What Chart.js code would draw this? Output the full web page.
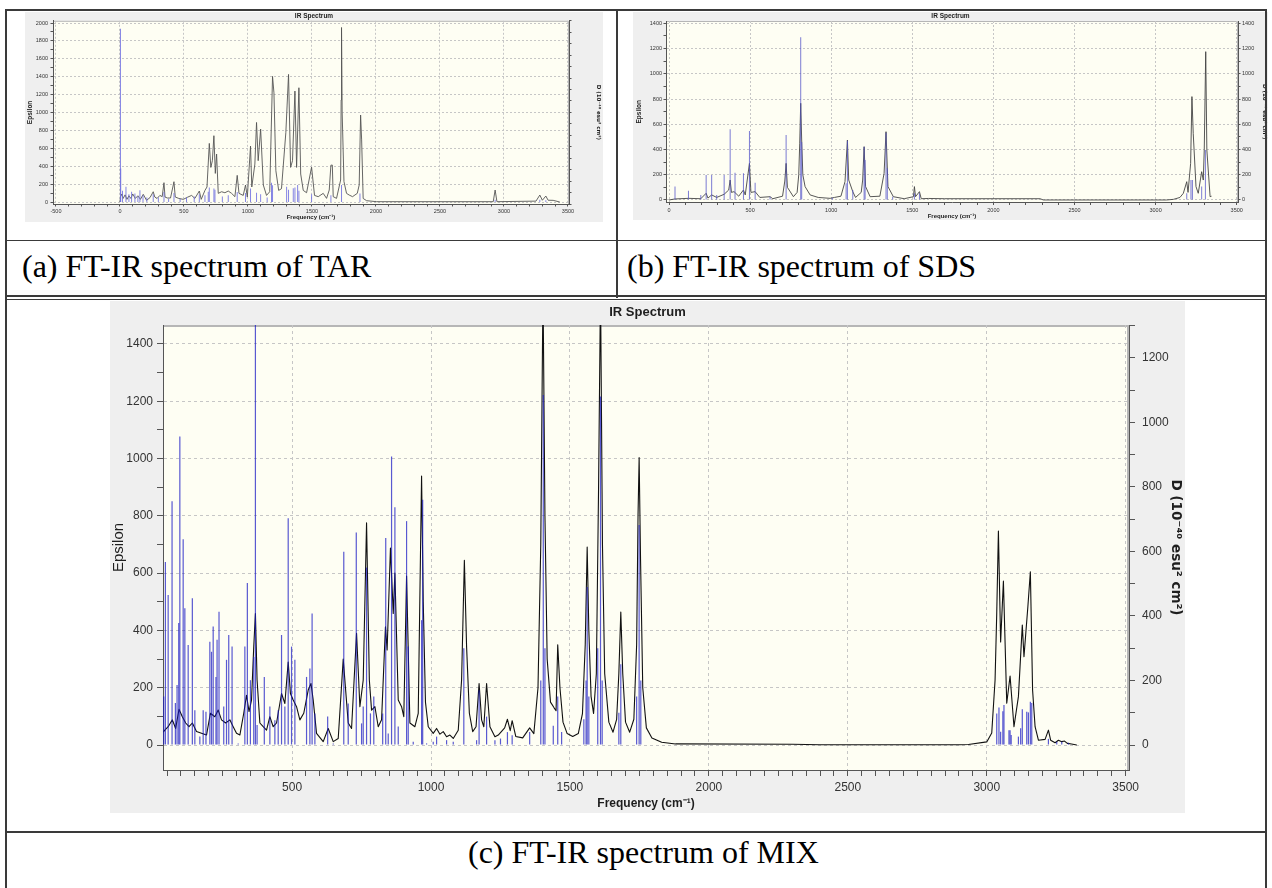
<!DOCTYPE html>
<html><head><meta charset="utf-8">
<script src="https://cdn.jsdelivr.net/npm/chart.js@4.4.0/dist/chart.umd.min.js"></script>
<style>
html,body{margin:0;padding:0;background:#fff;}
body{width:1272px;height:888px;position:relative;overflow:hidden;}
canvas{position:absolute;}
.ln{position:absolute;background:#3a3a3a;z-index:5;}
.cap{position:absolute;font-family:"Liberation Serif","Times New Roman",serif;font-size:32px;line-height:32px;color:#000;white-space:nowrap;}
</style></head><body>
<canvas id="tar" width="578" height="210" style="left:25px;top:12px;"></canvas>
<canvas id="sds" width="635" height="208" style="left:633px;top:12px;"></canvas>
<canvas id="mix" width="1075" height="512" style="left:110px;top:301px;"></canvas>

<div class="ln" style="left:6px;top:9px;width:1260px;height:2px;"></div>
<div class="ln" style="left:5px;top:9px;width:2px;height:879px;"></div>
<div class="ln" style="left:1265px;top:9px;width:2px;height:879px;"></div>
<div class="ln" style="left:616px;top:9px;width:2px;height:289px;"></div>
<div class="ln" style="left:6px;top:240px;width:1260px;height:1px;"></div>
<div class="ln" style="left:6px;top:295px;width:1260px;height:2px;"></div>
<div class="ln" style="left:6px;top:299px;width:1260px;height:1px;"></div>
<div class="ln" style="left:6px;top:831px;width:1260px;height:2px;"></div>

<div class="cap" style="left:22px;top:250px;">(a) FT-IR spectrum of TAR</div>
<div class="cap" style="left:627px;top:250px;">(b) FT-IR spectrum of SDS</div>
<div class="cap" style="left:468px;top:836px;">(c) FT-IR spectrum of MIX</div>

<script>
const FONT = '"Liberation Sans", Arial, Helvetica, sans-serif';
const SUPFONT = '"DejaVu Sans", "Liberation Sans", sans-serif';

// ---------------- data ----------------
// (a) TAR : broadened spectrum (Epsilon, left axis)
const tarCurveX = [0,5,15,25,40,55,70,85,100,120,
  140,160,182,208,235,260,272,290,312,330,
  344,352,370,395,422,432,460,495,530,560,
  585,620,635,664,680,698,710,722,734,745,
  755,768,794,820,846,872,898,916,930,963,
  981,995,1020,1030,1054,1067,1080,1099,1120,1145,
  1170,1192,1203,1218,1240,1262,1296,1317,1333,1348,
  1367,1380,1398,1412,1432,1458,1497,1520,1549,1588,
  1614,1635,1648,1659,1666,1692,1724,1728,1731,1736,
  1750,1770,1791,1817,1854,1869,1880,1888,1900,1927,
  2005,2916,2931,2945,3250,3280,3300,3327,3345,3384,
  3436];
const tarCurveY = [0,60,90,40,80,30,70,40,90,40,
  70,30,86,19,50,115,56,40,74,60,
  216,56,45,45,227,56,40,30,55,74,
  40,123,30,130,168,655,387,462,741,320,
  536,97,115,104,123,97,60,298,97,74,
  190,56,625,168,424,889,462,815,190,74,
  115,1404,1220,350,130,149,778,1426,387,462,
  1240,387,1277,313,130,104,390,74,60,97,
  41,134,412,413,60,41,246,1140,1950,1000,
  229,97,78,60,97,190,972,694,40,15,
  4,4,134,4,10,78,20,67,20,19,
  0];
// (a) TAR : sticks (D, right axis)
const tarStickX = [4,6,20,47,70,91,117,140,156,180,
  210,260,300,344,380,422,470,520,580,620,
  664,690,698,734,742,800,846,916,981,1020,
  1067,1099,1150,1184,1192,1302,1317,1354,1367,1388,
  1398,1497,1648,1731,1875,2931,3280,3327];
const tarStickY = [15500,3000,1000,1370,700,910,760,500,1060,600,
  400,700,400,900,300,800,300,400,500,700,
  600,910,1300,1200,1100,500,600,900,800,1200,
  820,700,400,1730,1500,1370,1100,1220,1300,1520,
  1000,700,600,1520,750,200,200,150];

// (b) SDS
const sdsCurveX = [0,37,120,196,229,240,263,294,340,368,
  377,385,401,430,459,470,496,505,531,560,
  623,640,700,714,722,730,767,790,800,806,
  812,818,825,839,870,920,993,1020,1060,1085,
  1100,1108,1133,1150,1185,1194,1203,1212,1240,1300,
  1326,1338,1350,1383,1450,1507,1513,1520,1544,1555,
  1600,1700,2288,2308,3068,3110,3150,3171,3192,3200,
  3216,3224,3232,3249,3263,3284,3294,3300,3309,3316,
  3336,3345];
const sdsCurveY = [0,8,13,10,53,15,40,20,45,79,
  158,60,66,30,79,40,290,60,66,20,
  26,10,30,150,290,100,26,60,200,450,
  766,475,200,106,40,20,13,20,30,145,
  475,158,66,20,60,158,422,106,26,30,
  211,541,106,26,10,26,106,26,66,10,
  12,10,10,0,0,5,20,53,145,60,
  290,819,528,106,53,224,158,400,1175,396,
  26,30];
const sdsStickX = [37,120,196,229,263,294,340,377,407,459,
  496,531,623,722,812,818,1007,1092,1100,1133,
  1203,1209,1338,1346,1379,1513,1544,3192,3218,3227,
  3284,3307];
const sdsStickY = [106,74,40,198,198,40,198,560,216,211,
  547,137,26,515,1289,460,18,132,470,79,
  422,317,533,251,26,53,53,53,158,158,
  106,396];

// (c) MIX
const mixCurveX = [36,42,54,62,69,81,93,105,117,129,
  141,156,174,192,206,222,234,246,261,276,
  288,300,312,326,336,345,354,362,368,374,
  384,396,408,420,432,444,462,474,486,494,
  504,516,528,542,558,568,576,588,612,630,
  648,666,684,702,714,732,744,756,768,778,
  786,798,810,822,836,842,854,864,870,882,
  894,902,912,924,942,954,966,972,980,990,
  1008,1020,1032,1044,1056,1068,1080,1098,1110,1120,
  1128,1138,1150,1162,1173,1182,1190,1200,1212,1230,
  1242,1265,1275,1285,1292,1305,1330,1355,1370,1385,
  1395,1403,1410,1418,1430,1443,1450,1456,1464,1475,
  1490,1510,1530,1545,1555,1562,1568,1576,1585,1595,
  1603,1610,1617,1625,1640,1655,1668,1676,1683,1690,
  1700,1715,1730,1740,1745,1749,1754,1762,1775,1795,
  1830,1880,2300,2400,2900,2934,3000,3018,3030,3036,
  3042,3050,3060,3072,3084,3098,3114,3128,3134,3148,
  3157,3165,3174,3186,3210,3222,3230,3246,3258,3270,
  3280,3290,3305,3324];
const mixCurveY = [45,52,64,77,88,58,125,99,77,64,
  77,47,41,35,111,99,122,88,77,88,
  64,41,35,111,174,117,157,343,459,227,
  77,64,52,99,64,77,180,145,290,180,
  157,134,88,111,192,215,157,41,12,58,
  12,23,300,77,58,390,134,227,776,227,
  122,134,64,88,413,332,688,459,600,157,
  134,99,590,77,64,111,939,500,150,64,
  41,58,38,47,29,35,23,52,227,645,
  343,111,47,64,215,88,64,215,64,29,
  35,60,90,50,85,30,25,60,40,200,
  700,1600,800,300,150,130,120,350,200,80,
  40,30,40,110,350,691,400,170,110,250,
  900,1600,700,250,80,45,90,250,464,250,
  80,45,90,350,800,1003,650,200,60,25,
  10,4,3,1,1,2,11,42,227,460,
  747,360,572,146,241,64,169,419,308,483,
  605,192,64,17,20,52,17,8,17,12,
  14,6,4,0];
const mixStickX = [38,44,54,68,80,86,92,96,108,114,
  126,141,150,168,180,190,204,210,216,226,
  230,237,254,264,272,284,306,330,339,350,
  362,368,374,400,420,438,450,462,474,486,
  498,510,552,564,572,582,628,648,686,702,
  731,750,756,768,782,794,826,837,846,858,
  870,882,912,918,936,966,970,984,1008,1020,
  1056,1080,1118,1164,1173,1200,1230,1250,1275,1292,
  1355,1395,1404,1410,1440,1456,1470,1550,1558,1562,
  1568,1600,1610,1616,1676,1683,1740,1749,1755,3036,
  3044,3050,3058,3062,3080,3084,3088,3114,3122,3128,
  3144,3150,3157,3162,3222,3252,3270,3294];
const mixStickY = [150,567,465,756,130,186,378,956,638,424,
  310,455,108,26,108,103,320,289,367,211,
  326,413,119,264,341,305,5,305,502,201,
  273,1400,62,211,119,77,108,341,119,703,
  305,264,211,237,408,98,88,5,599,129,
  659,67,119,550,98,150,98,642,36,894,
  737,57,694,305,10,387,760,5,10,26,
  15,10,300,15,170,88,15,20,40,30,
  40,200,1085,300,60,150,40,80,200,490,
  150,300,1080,200,100,250,150,682,200,98,
  116,41,105,124,46,46,31,26,52,111,
  103,101,134,130,19,10,10,7];

const titleText = 'IR Spectrum';
const xTitleText = 'Frequency (cm\u207B\u00B9)';
const yTitleText = 'Epsilon';
const y2TitleText = 'D (10\u207B\u2074\u2070 esu\u00B2 cm\u00B2)';

// ---------------- helpers ----------------
function zip(xs, ys){ return xs.map((x,i)=>({x:x, y:ys[i]})); }
function isMajor(v, m){ const r = Math.abs(v % m); return r < 1e-6 || Math.abs(r - m) < 1e-6; }
const labelFor = (m) => (v) => isMajor(v, m) ? String(Math.round(v)) : '';

const bgPlugin = {
  id: 'irbg',
  beforeDraw(chart, args, o){
    const {ctx, chartArea:a, width, height} = chart;
    ctx.save();
    ctx.fillStyle = o.outer; ctx.fillRect(0, 0, width, height);
    ctx.fillStyle = o.inner; ctx.fillRect(a.left, a.top, a.right - a.left, a.bottom - a.top);
    ctx.strokeStyle = o.frame; ctx.lineWidth = o.frameWidth;
    ctx.beginPath();
    ctx.moveTo(a.left, a.top + o.frameWidth/2);
    ctx.lineTo(a.right - o.frameWidth/2, a.top + o.frameWidth/2);
    ctx.lineTo(a.right - o.frameWidth/2, a.bottom);
    ctx.stroke();
    ctx.restore();
  }
};

function build(id, g, d){
  const tickFont = {family: FONT, size: g.tickFont};
  const gridCol = (m) => (c) => (c.tick && isMajor(c.tick.value, m)) ? '#c6c6c6' : 'rgba(0,0,0,0)';
  new Chart(document.getElementById(id), {
    data: { datasets: [
      { type:'bar', label:'D', data: zip(d.sx, d.sy), xAxisID:'x', yAxisID:'y2',
        backgroundColor: g.stickColor, borderWidth:0, barThickness: g.stickW, inflateAmount:0, order:1 },
      { type:'line', label:'Epsilon', data: zip(d.cx, d.cy), xAxisID:'x', yAxisID:'y',
        borderColor: g.lineColor, borderWidth: g.lineW, pointRadius:0, tension:0, fill:false,
        borderJoinStyle:'round', order:2 }
    ]},
    options: {
      responsive:false, animation:false, events:[],
      layout:{padding:0},
      plugins:{
        legend:{display:false}, tooltip:{enabled:false},
        title:{display:true, text:titleText, color:'#1e1e1e',
          font:{family:FONT, size:g.titleFont, weight:'bold'},
          padding:{top:g.tPadTop, bottom:g.tPadBottom}},
        irbg:{outer:'#efefef', inner:'#fefef3', frame:'#b6b6b6', frameWidth:g.frameW}
      },
      scales:{
        x:{ type:'linear', position:'bottom', min:g.xmin, max:g.xmax, offset:false,
          afterFit: s => { s.height = g.xh; },
          ticks:{stepSize:g.xminor, autoSkip:false, includeBounds:false, maxRotation:0, minRotation:0,
            padding:g.xpad, color:'#333', font:tickFont, callback: labelFor(g.xmajor)},
          grid:{offset:false, drawOnChartArea:true, drawTicks:true, tickLength:g.tl, tickColor:'#555', lineWidth:1,
            color: gridCol(g.xmajor)},
          border:{display:true, color:'#555', width:1, dash:g.dash},
          title:{display:true, text:xTitleText, color:'#1e1e1e',
            font:{family:FONT, size:g.xtFont, weight:'bold'}, padding:{top:0, bottom:g.xtPad}}
        },
        y:{ type:'linear', position:'left', min:g.ymin, max:g.ymax,
          afterFit: s => { s.width = g.yw; },
          ticks:{stepSize:g.yminor, autoSkip:false, includeBounds:false,
            padding:g.ypad, color:'#333', font:tickFont, callback: labelFor(g.ymajor)},
          grid:{drawOnChartArea:true, drawTicks:true, tickLength:g.tl, tickColor:'#555', lineWidth:1,
            color: gridCol(g.ymajor)},
          border:{display:true, color:'#555', width:1, dash:g.dash},
          title:{display:true, text:yTitleText, color:'#1e1e1e',
            font:{family:FONT, size:g.ytFont, weight:g.ytWeight}, padding:{top:g.ytPad, bottom:0}}
        },
        y2:{ type:'linear', position:'right', min:g.y2min, max:g.y2max,
          afterFit: s => { s.width = g.y2w; },
          ticks:{stepSize:g.y2minor, autoSkip:false, includeBounds:false,
            padding:g.y2pad, color:'#333', font:tickFont, callback: labelFor(g.y2major)},
          grid:{drawOnChartArea:false, drawTicks:true, tickLength:g.tl, tickColor:'#555'},
          border:{display:true, color:'#555', width:1},
          title:{display:true, text:y2TitleText, color:'#1e1e1e',
            font:{family:SUPFONT, size:g.y2tFont, weight:'bold'}, padding:{top:g.y2tPad, bottom:0}}
        }
      }
    },
    plugins:[bgPlugin]
  });
}

build('tar', {
  xmin:-523, xmax:3508, xminor:100, xmajor:500,
  ymin:-22, ymax:2025, yminor:100, ymajor:200,
  y2min:-179, y2max:16200, y2minor:1000, y2major:2000,
  xh:18, yw:28, y2w:34, tl:2.5, tickFont:5.5,
  titleFont:6.5, tPadTop:0.5, tPadBottom:0.5,
  xpad:1.2, ypad:2.5, y2pad:3.5,
  xtFont:6, xtPad:1.4, ytFont:6.5, ytWeight:'bold', ytPad:1.1, y2tFont:5.5, y2tPad:1.1,
  stickColor:'rgba(110,110,225,0.85)', stickW:1, lineColor:'#555', lineW:0.9, frameW:1, dash:[2,2]
}, {cx:tarCurveX, cy:tarCurveY, sx:tarStickX, sy:tarStickY});

build('sds', {
  xmin:-18.5, xmax:3508, xminor:100, xmajor:500,
  ymin:-20, ymax:1418, yminor:100, ymajor:200,
  y2min:-20, y2max:1418, y2minor:100, y2major:200,
  xh:17.5, yw:33, y2w:30, tl:2.5, tickFont:5.5,
  titleFont:6.5, tPadTop:0.6, tPadBottom:0.6,
  xpad:1.7, ypad:1.5, y2pad:1.5,
  xtFont:6, xtPad:0.1, ytFont:6.5, ytWeight:'bold', ytPad:2.1, y2tFont:5.5, y2tPad:0,
  stickColor:'rgba(80,80,200,0.75)', stickW:1, lineColor:'#444', lineW:0.9, frameW:1, dash:[2,2]
}, {cx:sdsCurveX, cy:sdsCurveY, sx:sdsStickX, sy:sdsStickY});

build('mix', {
  xmin:35.4, xmax:3512, xminor:50, xmajor:500,
  ymin:-87, ymax:1466, yminor:100, ymajor:200,
  y2min:-77.5, y2max:1302, y2minor:100, y2major:200,
  xh:43, yw:53, y2w:56, tl:6, tickFont:12,
  titleFont:13, tPadTop:4, tPadBottom:4.4,
  xpad:4, ypad:4, y2pad:7,
  xtFont:12, xtPad:1.8, ytFont:15, ytWeight:'normal', ytPad:0, y2tFont:13.5, y2tPad:1.5,
  stickColor:'rgba(25,25,195,0.72)', stickW:1.2, lineColor:'#111', lineW:1.1, frameW:2, dash:[3,3]
}, {cx:mixCurveX, cy:mixCurveY, sx:mixStickX, sy:mixStickY});
</script>
</body></html>
